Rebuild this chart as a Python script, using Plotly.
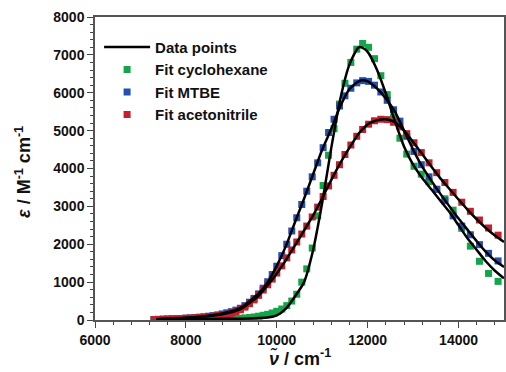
import plotly.graph_objects as go

# Fit marker wavenumbers (cm^-1)
fit_x = [7300, 7400, 7500, 7600, 7700, 7800, 7900, 8000,
         8100, 8200, 8300, 8400, 8500, 8600, 8700, 8800, 8900, 9000,
         9100, 9200, 9300, 9400, 9500, 9600, 9700, 9800, 9900, 10000,
         10110, 10220, 10330, 10440, 10550, 10660, 10780, 10900, 11020, 11140,
         11260, 11380, 11500, 11630, 11760, 11890, 12020, 12150, 12290, 12430,
         12570, 12710, 12860, 13020, 13180, 13350, 13520, 13700, 13880, 14070,
         14260, 14460, 14660, 14870, 15080]

fit_cyclohexane = [15, 15, 15, 15, 15, 15, 15, 15,
                   15, 15, 15, 20, 20, 20, 25, 25, 30, 35,
                   40, 45, 55, 65, 80, 100, 125, 150, 185, 230,
                   290, 380, 500, 680, 1000, 1350, 1900, 2750, 3550, 4350,
                   5050, 5700, 6250, 6800, 7150, 7300, 7200, 6900, 6450, 5950,
                   5350, 4800, 4380, 4060, 3850, 3650, 3450, 3200, 2900, 2420,
                   1950, 1550, 1230, 1020, 900]

fit_mtbe = [10, 15, 20, 25, 30, 35, 40, 50,
            55, 65, 75, 85, 100, 115, 135, 160, 190, 220,
            260, 310, 380, 470, 570, 690, 840, 1010, 1200, 1420,
            1700, 2000, 2350, 2700, 3050, 3400, 3780, 4150, 4550, 4950,
            5300, 5650, 5920, 6120, 6260, 6320, 6300, 6200, 6020, 5800,
            5550, 5250, 4850, 4450, 4100, 3780, 3450, 3150, 2750, 2480,
            2250, 1990, 1760, 1560, 1400]

fit_acetonitrile = [10, 15, 20, 25, 30, 35, 40, 45,
                    50, 55, 65, 75, 85, 100, 115, 130, 150, 175,
                    220, 270, 340, 430, 530, 650, 790, 930, 1080, 1240,
                    1430, 1640, 1850, 2060, 2270, 2480, 2720, 2980, 3260, 3540,
                    3820, 4100, 4370, 4620, 4850, 5030, 5170, 5260, 5300, 5290,
                    5220, 5100, 4920, 4680, 4420, 4150, 3890, 3630, 3370, 3110,
                    2870, 2640, 2430, 2240, 2100]

# Measured data (black lines)
data_x = [7350, 7600, 8000, 8400, 8800, 9200, 9600, 9800, 10000, 10200,
          10400, 10600, 10800, 11000, 11200, 11400, 11600, 11800, 11900, 12000,
          12200, 12400, 12600, 12800, 13000, 13200, 13400, 13600, 13800, 14000,
          14200, 14400, 14600, 14800, 15000]

data_cyclohexane = [20, 20, 20, 25, 30, 35, 50, 65, 120, 300,
                    620, 1000, 1850, 3100, 4550, 5850, 6750, 7200, 7180, 7080,
                    6620, 5980, 5250, 4580, 4100, 3750, 3450, 3150, 2850, 2500,
                    2150, 1850, 1550, 1300, 1100]

data_mtbe = [20, 40, 60, 100, 170, 320, 700, 1000, 1430, 1950,
             2580, 3200, 3850, 4500, 5050, 5650, 6100, 6300, 6330, 6300,
             6120, 5850, 5500, 5000, 4500, 4050, 3680, 3330, 3000, 2680,
             2380, 2080, 1800, 1570, 1400]

data_acetonitrile = [20, 35, 55, 90, 150, 290, 640, 920, 1230, 1580,
                     1970, 2360, 2760, 3220, 3700, 4150, 4550, 4920, 5050, 5170,
                     5270, 5300, 5220, 5000, 4700, 4380, 4050, 3740, 3460, 3180,
                     2910, 2660, 2430, 2230, 2060]

fits = [("Fit cyclohexane", fit_cyclohexane, "#12a54a"),
        ("Fit MTBE", fit_mtbe, "#2550b0"),
        ("Fit acetonitrile", fit_acetonitrile, "#c61f2b")]
datas = [data_cyclohexane, data_mtbe, data_acetonitrile]

FONT = "Arial, 'Liberation Sans', sans-serif"

fig = go.Figure()
for i, (name, ys, col) in enumerate(fits):
    fig.add_trace(go.Scatter(
        x=fit_x, y=ys, mode="markers", name=name, legendrank=2 + i,
        marker=dict(symbol="square", size=7, color=col, line=dict(width=0)),
    ))
for i, ys in enumerate(datas):
    fig.add_trace(go.Scatter(
        x=data_x, y=ys, mode="lines", name="Data points",
        line=dict(color="black", width=2.5, shape="spline", smoothing=0.6),
        showlegend=(i == 0), legendrank=1,
    ))

fig.update_layout(
    width=506, height=372, autosize=False,
    margin=dict(l=95, r=2, t=17, b=52, autoexpand=False),
    paper_bgcolor="white", plot_bgcolor="white",
    font=dict(family=FONT, size=14, color="#111"),
    showlegend=True,
    legend=dict(x=0.01, y=0.955, xanchor="left", yanchor="top",
                bgcolor="rgba(0,0,0,0)", font=dict(size=15, color="#111", weight="bold"),
                itemwidth=46, tracegroupgap=0),
    annotations=[
        dict(text="<i>ν̃</i> / cm<sup>-1</sup>", xref="paper", yref="paper",
             x=0.5, y=-0.125, xanchor="center", yanchor="middle", showarrow=False,
             font=dict(size=18, color="#111", weight="bold")),
        dict(text="<i>ε</i> / M<sup>-1</sup> cm<sup>-1</sup>", xref="paper", yref="paper",
             x=-0.175, y=0.49, xanchor="center", yanchor="middle", showarrow=False,
             textangle=-90, font=dict(size=18, color="#111", weight="bold")),
    ],
)
fig.update_xaxes(
    range=[6000, 15000], tickmode="linear", tick0=6000, dtick=2000,
    tickformat="d", automargin=False,
    ticks="outside", ticklen=6, tickwidth=1.3, tickcolor="#444",
    showline=True, linecolor="#555", linewidth=1.5, mirror=True,
    showgrid=False, zeroline=False,
    minor=dict(dtick=400, tick0=6000, ticks="outside", ticklen=3, tickwidth=1, tickcolor="#444"),
    tickfont=dict(size=14, color="#111", weight="bold"),
)
fig.update_yaxes(
    range=[0, 8000], tickmode="linear", tick0=0, dtick=1000,
    tickformat="d", automargin=False,
    ticks="outside", ticklen=6, tickwidth=1.3, tickcolor="#444",
    showline=True, linecolor="#555", linewidth=1.5, mirror=True,
    showgrid=False, zeroline=False,
    minor=dict(dtick=200, tick0=0, ticks="outside", ticklen=3, tickwidth=1, tickcolor="#444"),
    tickfont=dict(size=14, color="#111", weight="bold"),
)

fig.write_html("out.html", config={"displayModeBar": False},
               post_script="document.body.style.margin='0';document.body.style.overflow='hidden';")
